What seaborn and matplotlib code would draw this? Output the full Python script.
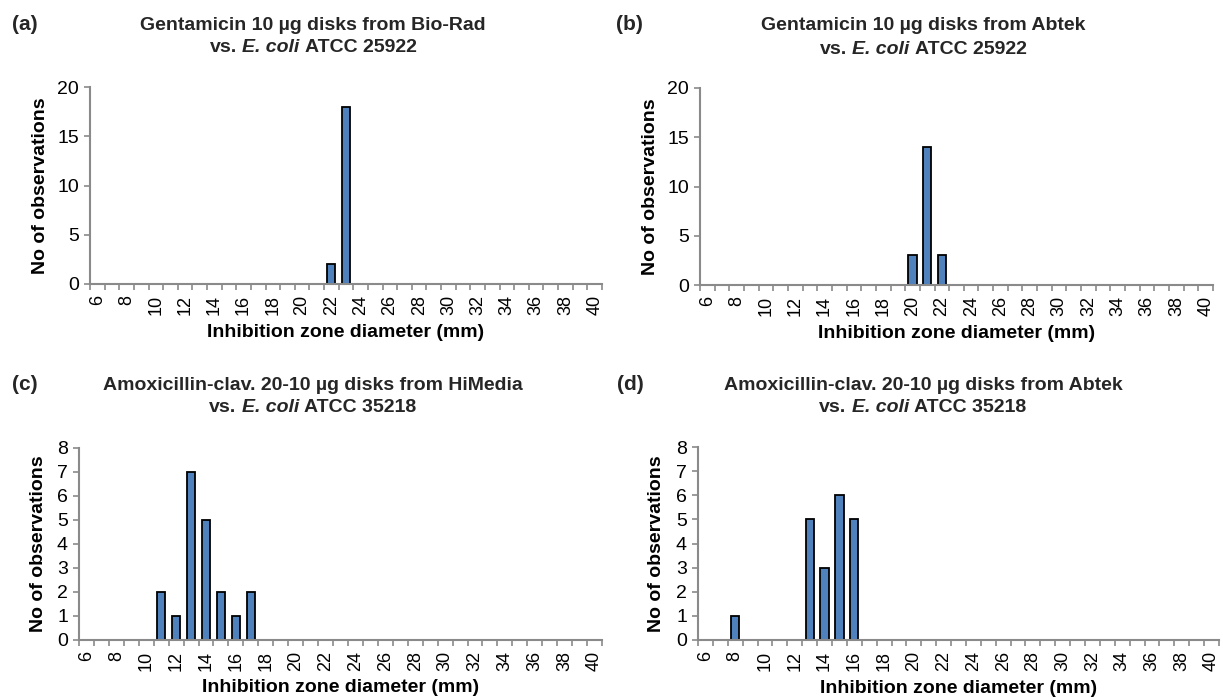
import matplotlib
matplotlib.use("Agg")
import matplotlib.pyplot as plt
import matplotlib.transforms as mtransforms
from matplotlib.ticker import FixedLocator
import numpy as np
import pandas as pd
import seaborn as sns

# ---------------- data ----------------
diameters = list(range(6, 41))            # categories (mm)
tick_values = list(range(6, 41, 2))       # labelled categories

a_diam = [22, 23]
a_count = [2, 18]

b_diam = [20, 21, 22]
b_count = [3, 14, 3]

c_diam = [11, 12, 13, 14, 15, 16, 17]
c_count = [2, 1, 7, 5, 2, 1, 2]

d_diam = [8, 13, 14, 15, 16]
d_count = [1, 5, 3, 6, 5]

titles_line1 = [
    "Gentamicin 10 µg disks from Bio-Rad",
    "Gentamicin 10 µg disks from Abtek",
    "Amoxicillin-clav. 20-10 µg disks from HiMedia",
    "Amoxicillin-clav. 20-10 µg disks from Abtek",
]
titles_strain = ["ATCC 25922", "ATCC 25922", "ATCC 35218", "ATCC 35218"]
panel_labels = ["(a)", "(b)", "(c)", "(d)"]
y_max = [20, 20, 8, 8]
y_step = [5, 5, 1, 1]
x_label = "Inhibition zone diameter (mm)"
y_label = "No of observations"

# ---------------- style ----------------
sns.set_theme(style="white")
plt.rcParams['font.family'] = ['Liberation Sans', 'DejaVu Sans']

W, H = 1223, 698
fig = plt.figure(figsize=(W / 100, H / 100), dpi=100)
fig.patch.set_facecolor("white")

AXIS_GRAY = "#8a8a8a"
BAR_BLUE = "#4F81BD"
FS = 14

# axes rectangles in pixels: (x0, x1, ytop, ybottom) measured from top-left
rects_px = [
    (90, 602, 87, 284),
    (700, 1213, 88, 285),
    (79, 602, 448, 640),
    (698, 1219, 447, 640),
]
ylabel_x = [-0.096, -0.096, -0.077, -0.080]
xlabel_y = [-0.245, -0.245, -0.25, -0.25]
panel_origin = [(0, 0), (610, 0), (0, 360), (610, 360)]
title_y = [(25, 48), (26, 49), (385, 408), (385, 408)]
label_pos = [(25, 24), (629, 24), (25, 384), (630, 384)]

data = [(a_diam, a_count), (b_diam, b_count), (c_diam, c_count), (d_diam, d_count)]
order = [str(v) for v in diameters]

pix = mtransforms.IdentityTransform()

for i, ((diam, cnt), (x0, x1, yt, yb)) in enumerate(zip(data, rects_px)):
    rect = [x0 / W, (H - yb) / H, (x1 - x0) / W, (yb - yt) / H]
    ax = fig.add_axes(rect)
    df = pd.DataFrame({"diameter": [str(v) for v in diam], "count": cnt})
    sns.barplot(data=df, x="diameter", y="count", order=order, color=BAR_BLUE,
                saturation=1, edgecolor="black", linewidth=1.3, width=0.55,
                errorbar=None, ax=ax)
    ax.set_xlim(-0.5, len(diameters) - 0.5)
    ax.set_ylim(0, y_max[i])
    ax.set_yticks(np.arange(0, y_max[i] + 0.01, y_step[i]))
    ax.yaxis.set_major_formatter(matplotlib.ticker.FormatStrFormatter("%d"))

    major_pos = [diameters.index(v) for v in tick_values]
    ax.xaxis.set_major_locator(FixedLocator(major_pos))
    ax.set_xticklabels([str(v) for v in tick_values])
    ax.xaxis.set_minor_locator(FixedLocator(np.arange(-0.5, len(diameters), 1.0)))

    ax.tick_params(axis="x", which="major", length=0, labelrotation=90,
                   labelsize=13, pad=8, colors="black")
    ax.tick_params(axis="x", which="minor", length=4, width=1.2,
                   color=AXIS_GRAY, direction="out", bottom=True)
    ax.tick_params(axis="y", which="major", length=4, width=1.2,
                   color=AXIS_GRAY, labelcolor="black", labelsize=FS, pad=4,
                   direction="out", left=True)

    for s in ["top", "right"]:
        ax.spines[s].set_visible(False)
    for s in ["left", "bottom"]:
        ax.spines[s].set_color(AXIS_GRAY)
        ax.spines[s].set_linewidth(1.5)

    ax.set_xlabel(x_label, fontsize=FS, fontweight="bold", color="black")
    ax.set_ylabel(y_label, fontsize=FS, fontweight="bold", color="black")
    ax.xaxis.set_label_coords(0.5, xlabel_y[i])
    ax.xaxis.label.set_va("center")
    ax.yaxis.set_label_coords(ylabel_x[i], 0.5)
    ax.yaxis.label.set_va("center")
    ax.grid(False)

    # panel label
    lx, ly = label_pos[i]
    fig.text(lx, H - ly, panel_labels[i], transform=pix, fontsize=15,
             fontweight="bold", ha="center", va="center")

    # title
    ox, oy = panel_origin[i]
    cx = ox + 313
    y1, y2 = title_y[i]
    fig.text(cx, H - y1, titles_line1[i], transform=pix, fontsize=FS,
             fontweight="bold", ha="center", va="center")

    renderer = fig.canvas.get_renderer()
    pieces = [("vs.", "normal"), ("E. coli", "italic"), (titles_strain[i], "normal")]
    objs = []
    for txt, st in pieces:
        t = fig.text(0, H - y2, txt, transform=pix, fontsize=FS, fontweight="bold",
                     style=st, ha="left", va="center")
        objs.append(t)
    sp1 = fig.text(0, 0, "a a", transform=pix, fontsize=FS, fontweight="bold")
    sp2 = fig.text(0, 0, "aa", transform=pix, fontsize=FS, fontweight="bold")
    space = sp1.get_window_extent(renderer).width - sp2.get_window_extent(renderer).width
    sp1.remove()
    sp2.remove()
    widths = [o.get_window_extent(renderer).width for o in objs]
    total = sum(widths) + 2 * space
    x = cx - total / 2
    for o, w in zip(objs, widths):
        o.set_x(x)
        x += w + space

fig.savefig("out.png", dpi=100, facecolor="white")
